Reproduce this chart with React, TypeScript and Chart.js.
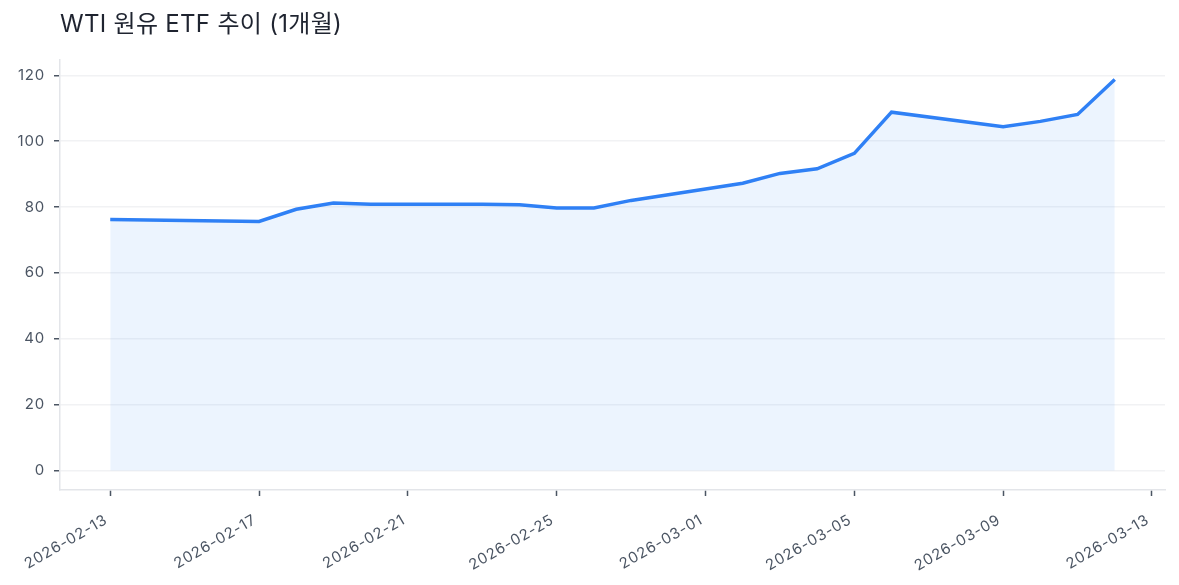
import { useEffect, useRef } from 'react';
import { Chart, registerables } from 'chart.js';
import type { Plugin } from 'chart.js';

Chart.register(...registerables);

const title = 'WTI 원유 ETF 추이 (1개월)';

const dates = [
  '2026-02-13', '2026-02-17', '2026-02-18', '2026-02-19', '2026-02-20',
  '2026-02-23', '2026-02-24', '2026-02-25', '2026-02-26', '2026-02-27',
  '2026-03-02', '2026-03-03', '2026-03-04', '2026-03-05', '2026-03-06',
  '2026-03-09', '2026-03-10', '2026-03-11', '2026-03-12',
];
const prices = [
  76.2, 75.6, 79.3, 81.2, 80.8,
  80.8, 80.7, 79.7, 79.7, 82.0,
  87.2, 90.2, 91.6, 96.3, 108.8,
  104.4, 106.0, 108.1, 118.7,
];
const xTickDates = [
  '2026-02-13', '2026-02-17', '2026-02-21', '2026-02-25',
  '2026-03-01', '2026-03-05', '2026-03-09', '2026-03-13',
];
const yTicks = [0, 20, 40, 60, 80, 100, 120];

const DAY = 86400000;
const base = Date.parse(dates[0]);
const dayOf = (d: string) => (Date.parse(d) - base) / DAY;

const lineColor = '#2f80f5';
const fillColor = 'rgba(47,128,245,0.09)';
const gridColor = '#f1f2f4';
const spineColor = '#e3e5e9';
const tickColor = '#4b5563';
const font = 'Inter, "Noto Sans CJK KR", sans-serif';

// wider tick text, like the reference
const spacing: Plugin<'line'> = {
  id: 'spacing',
  beforeDraw: (chart) => { (chart.ctx as any).letterSpacing = '0.8px'; },
};

export default function App() {
  const ref = useRef<HTMLCanvasElement>(null);

  useEffect(() => {
    document.body.style.margin = '0';
    if (!ref.current) return;

    const span = dayOf(dates[dates.length - 1]);
    const yMax = Math.max(...prices);

    const chart = new Chart(ref.current, {
      type: 'line',
      data: {
        datasets: [{
          data: dates.map((d, i) => ({ x: dayOf(d), y: prices[i] })),
          borderColor: lineColor,
          backgroundColor: fillColor,
          borderWidth: 3.5,
          pointRadius: 0,
          tension: 0,
          fill: 'origin',
        }],
      },
      options: {
        responsive: false,
        animation: false,
        layout: { padding: { top: 60, right: 14, left: 0, bottom: 0 } },
        plugins: {
          legend: { display: false },
          tooltip: { enabled: false },
        },
        scales: {
          x: {
            type: 'linear',
            min: -span * 0.05,
            max: span * 1.05,
            afterBuildTicks: (s) => { s.ticks = xTickDates.map((d) => ({ value: dayOf(d) })); },
            afterFit: (s) => { s.height = 95; },
            grid: { drawOnChartArea: false, drawTicks: true, tickLength: 6, tickColor, tickWidth: 1.5 },
            border: { color: spineColor, width: 1.5 },
            ticks: {
              color: tickColor,
              font: { family: font, size: 15 },
              minRotation: 30,
              maxRotation: 30,
              padding: 15,
              labelOffset: -4,
              autoSkip: false,
              callback: (v) => new Date(base + Number(v) * DAY).toISOString().slice(0, 10),
            },
          },
          y: {
            min: -yMax * 0.05,
            max: yMax * 1.05,
            afterBuildTicks: (s) => { s.ticks = yTicks.map((v) => ({ value: v })); },
            afterFit: (s) => { s.width = 60; },
            grid: { color: gridColor, lineWidth: 1.5, drawTicks: true, tickLength: 6, tickColor, tickWidth: 1.5 },
            border: { color: spineColor, width: 1.5 },
            ticks: {
              color: tickColor,
              font: { family: font, size: 15 },
              padding: 9,
            },
          },
        },
      },
      plugins: [spacing],
    });
    return () => chart.destroy();
  }, []);

  return (
    <div style={{ position: 'relative', width: 1179, height: 585, background: '#fff' }}>
      <div style={{
        position: 'absolute', left: 60, top: 9, fontFamily: font, fontSize: 24,
        color: '#1f2430', lineHeight: '30px', whiteSpace: 'nowrap', letterSpacing: '0.3px',
      }}>{title}</div>
      <canvas ref={ref} width={1179} height={585} />
    </div>
  );
}
